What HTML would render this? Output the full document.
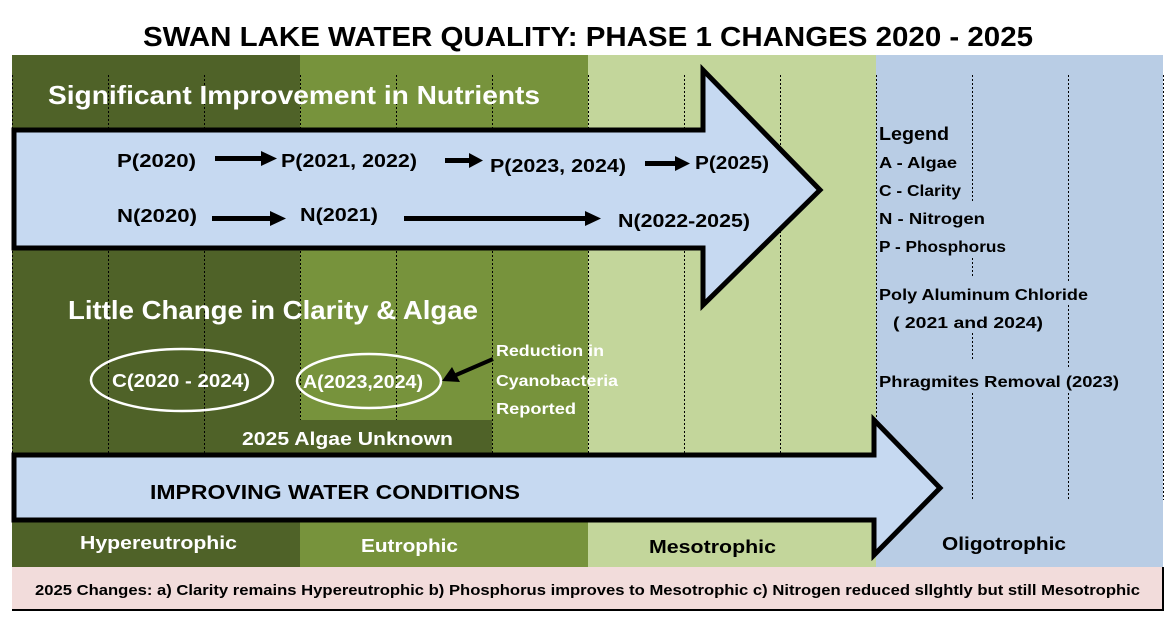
<!DOCTYPE html>
<html><head><meta charset="utf-8"><style>html,body{margin:0;padding:0;background:#fff}svg{display:block}text{font-family:"Liberation Sans",sans-serif;font-weight:bold}</style></head><body>
<svg width="1173" height="618" viewBox="0 0 1173 618" xmlns="http://www.w3.org/2000/svg">
<rect width="1173" height="618" fill="#fff"/>
<text x="143" y="46" font-size="28" textLength="890" lengthAdjust="spacingAndGlyphs">SWAN LAKE WATER QUALITY: PHASE 1 CHANGES 2020 - 2025</text>
<rect x="12" y="55" width="288" height="512" fill="#4f6228"/>
<rect x="300" y="55" width="288" height="512" fill="#77933c"/>
<rect x="588" y="55" width="288" height="512" fill="#c3d69b"/>
<rect x="876" y="55" width="287" height="512" fill="#b9cde5"/>
<rect x="300" y="420" width="192" height="33" fill="#4f6228"/>
<g stroke="#000" stroke-width="1" stroke-dasharray="2,2">
<line x1="12.5" y1="75" x2="12.5" y2="455"/>
<line x1="108.5" y1="75" x2="108.5" y2="455"/>
<line x1="204.5" y1="75" x2="204.5" y2="455"/>
<line x1="300.5" y1="75" x2="300.5" y2="420"/>
<line x1="396.5" y1="75" x2="396.5" y2="420"/>
<line x1="492.5" y1="75" x2="492.5" y2="455"/>
<line x1="588.5" y1="75" x2="588.5" y2="455"/>
<line x1="684.5" y1="75" x2="684.5" y2="455"/>
<line x1="780.5" y1="75" x2="780.5" y2="455"/>
<line x1="876.5" y1="75" x2="876.5" y2="455"/>
<line x1="972.5" y1="75" x2="972.5" y2="202"/>
<line x1="972.5" y1="258" x2="972.5" y2="278"/>
<line x1="972.5" y1="333" x2="972.5" y2="360"/>
<line x1="972.5" y1="393" x2="972.5" y2="500"/>
<line x1="1068.5" y1="75" x2="1068.5" y2="282"/>
<line x1="1068.5" y1="305" x2="1068.5" y2="368"/>
<line x1="1068.5" y1="393" x2="1068.5" y2="500"/>
<line x1="1163.5" y1="75" x2="1163.5" y2="500"/>
</g>
<text x="48" y="104" font-size="26" fill="#fff" textLength="492" lengthAdjust="spacingAndGlyphs">Significant Improvement in Nutrients</text>
<polygon points="14,130 703,130 703,70 820,190 703,305 703,248 14,248" fill="#c6d9f1" stroke="#000" stroke-width="5" stroke-linejoin="miter"/>
<polygon points="14,455 874,455 874,420 940,488 874,555 874,520 14,520" fill="#c6d9f1" stroke="#000" stroke-width="5"/>
<g font-size="18" fill="#000">
<text x="117" y="167" textLength="79" lengthAdjust="spacingAndGlyphs">P(2020)</text>
<text x="281" y="167" textLength="136" lengthAdjust="spacingAndGlyphs">P(2021, 2022)</text>
<text x="490" y="172" textLength="136" lengthAdjust="spacingAndGlyphs">P(2023, 2024)</text>
<text x="695" y="169" textLength="74" lengthAdjust="spacingAndGlyphs">P(2025)</text>
<text x="117" y="222" textLength="80" lengthAdjust="spacingAndGlyphs">N(2020)</text>
<text x="300" y="221" textLength="78" lengthAdjust="spacingAndGlyphs">N(2021)</text>
<text x="618" y="227" textLength="132" lengthAdjust="spacingAndGlyphs">N(2022-2025)</text>
</g>
<g fill="#000">
<rect x="215" y="156" width="48" height="5"/><polygon points="261,151 277,158.5 261,166"/>
<rect x="445" y="158" width="26" height="5"/><polygon points="469,153 483,160.5 469,168"/>
<rect x="645" y="161" width="32" height="5"/><polygon points="675,156 690,163.5 675,171"/>
<rect x="212" y="216" width="60" height="5"/><polygon points="270,211 286,218.5 270,226"/>
<rect x="404" y="216" width="183" height="5"/><polygon points="585,211 601,218.5 585,226"/>
</g>
<text x="68" y="319" font-size="26" fill="#fff" textLength="410" lengthAdjust="spacingAndGlyphs">Little Change in Clarity &amp; Algae</text>
<ellipse cx="182" cy="380" rx="91" ry="31" fill="none" stroke="#fff" stroke-width="2.5"/>
<ellipse cx="369" cy="381" rx="72" ry="27" fill="none" stroke="#fff" stroke-width="2.5"/>
<g font-size="18" fill="#fff">
<text x="112" y="387" textLength="138" lengthAdjust="spacingAndGlyphs">C(2020 - 2024)</text>
<text x="303" y="388" textLength="120" lengthAdjust="spacingAndGlyphs">A(2023,2024)</text>
<text x="242" y="445" textLength="211" lengthAdjust="spacingAndGlyphs">2025 Algae Unknown</text>
<text x="80" y="549" textLength="157" lengthAdjust="spacingAndGlyphs">Hypereutrophic</text>
<text x="361" y="552" textLength="97" lengthAdjust="spacingAndGlyphs">Eutrophic</text>
</g>
<line x1="493" y1="359" x2="456" y2="375" stroke="#000" stroke-width="4"/>
<polygon points="442,381 452,367 460,382" fill="#000"/>
<g font-size="16" fill="#fff">
<text x="496" y="356" textLength="108" lengthAdjust="spacingAndGlyphs">Reduction in</text>
<text x="496" y="386" textLength="122" lengthAdjust="spacingAndGlyphs">Cyanobacteria</text>
<text x="496" y="414" textLength="80" lengthAdjust="spacingAndGlyphs">Reported</text>
</g>
<text x="150" y="499" font-size="20" fill="#000" textLength="370" lengthAdjust="spacingAndGlyphs">IMPROVING WATER CONDITIONS</text>
<g font-size="18" fill="#000">
<text x="649" y="553" textLength="127" lengthAdjust="spacingAndGlyphs">Mesotrophic</text>
<text x="942" y="550" textLength="124" lengthAdjust="spacingAndGlyphs">Oligotrophic</text>
<text x="879" y="140" textLength="70" lengthAdjust="spacingAndGlyphs">Legend</text>
</g>
<g font-size="16" fill="#000">
<text x="879" y="168" textLength="78" lengthAdjust="spacingAndGlyphs">A - Algae</text>
<text x="879" y="196" textLength="82" lengthAdjust="spacingAndGlyphs">C - Clarity</text>
<text x="879" y="224" textLength="106" lengthAdjust="spacingAndGlyphs">N - Nitrogen</text>
<text x="879" y="252" textLength="127" lengthAdjust="spacingAndGlyphs">P - Phosphorus</text>
<text x="879" y="300" textLength="209" lengthAdjust="spacingAndGlyphs">Poly Aluminum Chloride</text>
<text x="893" y="328" textLength="150" lengthAdjust="spacingAndGlyphs">( 2021 and 2024)</text>
<text x="879" y="387" textLength="240" lengthAdjust="spacingAndGlyphs">Phragmites Removal (2023)</text>
</g>
<rect x="12" y="567" width="1151" height="43" fill="#f2dcdb"/>
<line x1="12" y1="610" x2="1164" y2="610" stroke="#000" stroke-width="2"/>
<line x1="1163" y1="567" x2="1163" y2="611" stroke="#000" stroke-width="2"/>
<text x="35" y="595" font-size="15" fill="#000" textLength="1105" lengthAdjust="spacingAndGlyphs">2025 Changes: a) Clarity remains Hypereutrophic b) Phosphorus improves to Mesotrophic c) Nitrogen reduced sllghtly but still Mesotrophic</text>
</svg>
</body></html>
